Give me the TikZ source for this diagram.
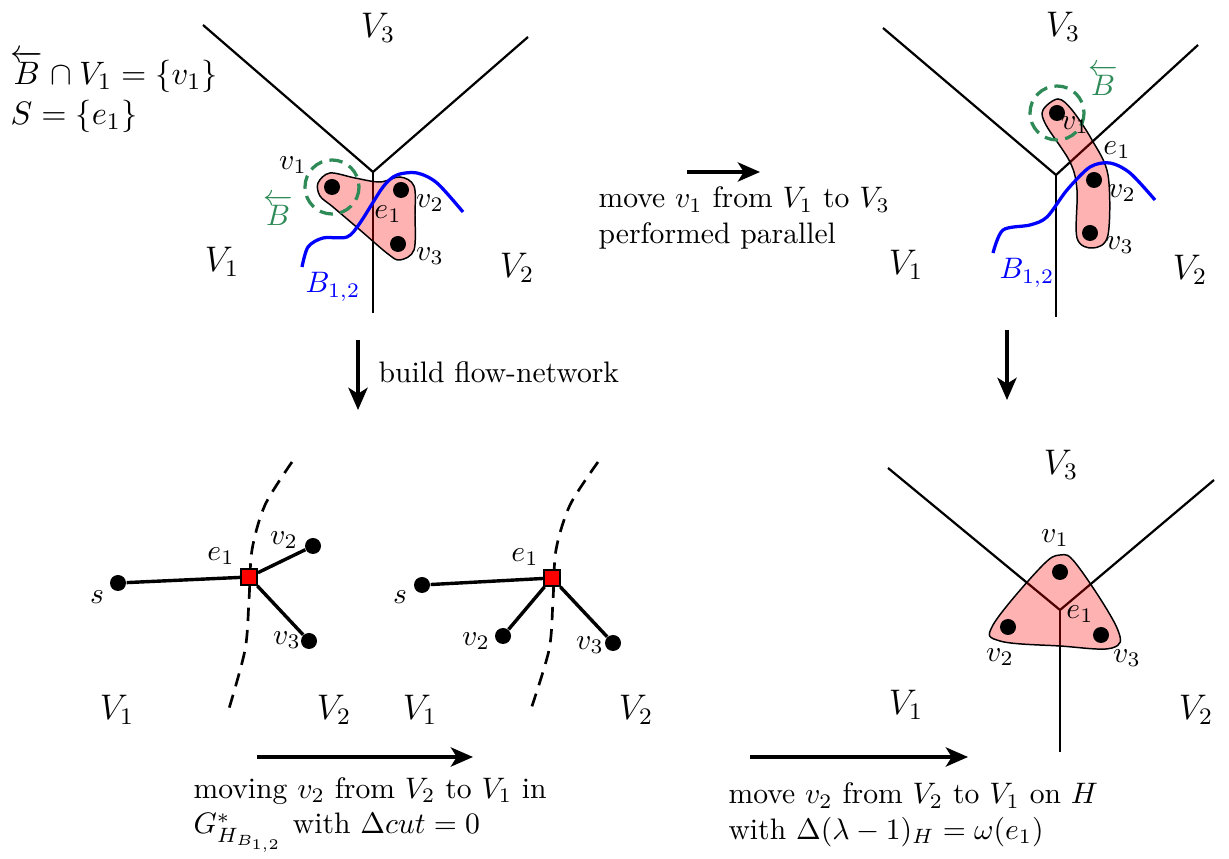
\documentclass[tikz,border=0pt]{standalone}
\usepackage{amsmath,amssymb}
\usetikzlibrary{arrows.meta}
\definecolor{seagreen}{RGB}{46,139,87}

\begin{document}
\begin{tikzpicture}[
  x=0.3375pt, y=-0.3375pt,
  dot/.style={circle, fill=black, inner sep=0pt, minimum size=5.4pt},
  netnode/.style={rectangle, draw=black, fill=red, line width=0.8pt, inner sep=0pt, minimum size=5.2pt},
  border/.style={line width=0.75pt},
  hedge/.style={draw=black, line width=0.5pt, fill=red, fill opacity=0.3},
  cutline/.style={blue, line width=1.1pt},
  bubble/.style={draw=seagreen, dashed, dash pattern=on 4.5pt off 2.5pt, line width=1.1pt},
  move/.style={-{Stealth[length=7.5pt, width=6.5pt, inset=2pt]}, line width=1.1pt},
  flowedge/.style={line width=1.15pt},
  sep/.style={dashed, dash pattern=on 4.5pt off 3pt, line width=0.9pt},
  part/.style={font=\large},
  lab/.style={font=\fontsize{9.7pt}{11pt}\selectfont, inner sep=1pt},
  txt/.style={anchor=west, align=left, inner sep=0pt}
]
\useasboundingbox (0,0) rectangle (1229,859);

\node[txt, font=\fontsize{11.2pt}{13.5pt}\selectfont] (info) at (10,92) {$\overleftarrow{B}\cap V_1=\{v_1\}$\\ $S=\{e_1\}$};

\draw[border] (203,25) -- (373,172) coordinate (a-c) -- (528,37);
\draw[border] (a-c) -- (373,313);
\node[part] (a-V3) at (378,28) {$V_3$};
\node[part] (a-V1) at (222,262) {$V_1$};
\node[part] (a-V2) at (517,268) {$V_2$};
\filldraw[hedge] plot[smooth cycle, tension=0.55] coordinates {(318,183) (330,173) (355,178) (380,182) (400,177) (414,186) (415,215) (414,250) (400,260) (388,254) (360,230) (333,207) (320,196)};
\draw[cutline] plot[smooth] coordinates {(302,267) (308,247) (323,238) (347,237) (360,223) (383,187) (397,175) (417,173) (437,183) (463,212)};
\node[text=blue] (a-B) at (333,287) {$B_{1,2}$};
\node[dot] (a-v1) at (332,187) {};
\node[dot] (a-v2) at (401,190) {};
\node[dot] (a-v3) at (398,244) {};
\draw[bubble] (a-v1) circle (27);
\node[text=seagreen] (a-Bl) at (278,210) {$\overleftarrow{B}$};
\node[lab] (a-l1) at (293,165) {$v_1$};
\node[lab] (a-l2) at (430,203) {$v_2$};
\node[lab] (a-l3) at (430,256) {$v_3$};
\node[lab] (a-le) at (388,214) {$e_1$};

\draw[border] (883,28) -- (1056,175) coordinate (b-c) -- (1198,45);
\draw[border] (b-c) -- (1056,317);
\node[part] (b-V3) at (1063,27) {$V_3$};
\node[part] (b-V1) at (906,265) {$V_1$};
\node[part] (b-V2) at (1190,270) {$V_2$};
\filldraw[hedge] plot[smooth cycle, tension=0.55] coordinates {(1043,110) (1058,99) (1072,110) (1092,140) (1108,175) (1108,235) (1093,248) (1077,238) (1077,190) (1070,162) (1046,125)};
\draw[cutline] plot[smooth] coordinates {(993,253) (1003,230) (1030,225) (1047,217) (1067,190) (1090,167) (1110,163) (1130,173) (1155,200)};
\node[text=blue] (b-B) at (1027,273) {$B_{1,2}$};
\node[dot] (b-v1) at (1057,113) {};
\node[dot] (b-v2) at (1094,180) {};
\node[dot] (b-v3) at (1090,233) {};
\draw[bubble] (b-v1) circle (27);
\node[text=seagreen] (b-Bl) at (1103,80) {$\overleftarrow{B}$};
\node[lab] (b-l1) at (1075,125) {$v_1$};
\node[lab] (b-l2) at (1122,193) {$v_2$};
\node[lab] (b-l3) at (1120,245) {$v_3$};
\node[lab] (b-le) at (1117,150) {$e_1$};

\coordinate (m1a) at (687,172);
\coordinate (m1b) at (760,172);
\draw[move] (m1a) -- (m1b);
\node[txt] (m1t) at (598,218) {move $v_1$ from $V_1$ to $V_3$\\ performed parallel};

\coordinate (m2a) at (358,340);
\coordinate (m2b) at (358,410);
\draw[move] (m2a) -- (m2b);
\node[txt] (m2t) at (378,372) {build flow-network};

\coordinate (m3a) at (1007,330);
\coordinate (m3b) at (1007,400);
\draw[move] (m3a) -- (m3b);

\draw[sep] plot[smooth] coordinates {(292,462) (265,505) (252,550) (249,600) (245,650) (228,712)};
\node[dot] (c-s) at (118,583) {};
\node[netnode] (c-e1) at (249,577) {};
\node[dot] (c-v2) at (313,546) {};
\node[dot] (c-v3) at (309,641) {};
\draw[flowedge] (c-s) -- (c-e1) -- (c-v2);
\draw[flowedge] (c-e1) -- (c-v3);
\node[lab] (c-ls) at (97,597) {$s$};
\node[lab] (c-le) at (221,556) {$e_1$};
\node[lab] (c-l2) at (284,540) {$v_2$};
\node[lab] (c-l3) at (287,640) {$v_3$};
\node[part] (c-V1) at (117,710) {$V_1$};
\node[part] (c-V2) at (334,710) {$V_2$};

\draw[sep] plot[smooth] coordinates {(598,462) (570,505) (556,550) (553,600) (549,650) (530,712)};
\node[dot] (d-s) at (422,585) {};
\node[netnode] (d-e1) at (552,578) {};
\node[dot] (d-v2) at (503,636) {};
\node[dot] (d-v3) at (613,643) {};
\draw[flowedge] (d-s) -- (d-e1) -- (d-v2);
\draw[flowedge] (d-e1) -- (d-v3);
\node[lab] (d-ls) at (400,597) {$s$};
\node[lab] (d-le) at (525,557) {$e_1$};
\node[lab] (d-l2) at (476,641) {$v_2$};
\node[lab] (d-l3) at (590,645) {$v_3$};
\node[part] (d-V1) at (420,710) {$V_1$};
\node[part] (d-V2) at (636,710) {$V_2$};

\coordinate (m4a) at (257,757);
\coordinate (m4b) at (473,757);
\draw[move] (m4a) -- (m4b);
\node[txt] (m4t) at (193,815) {moving $v_2$ from $V_2$ to $V_1$ in\\ $G^*_{H_{B_{1,2}}}$ with $\Delta cut=0$};

\coordinate (m5a) at (750,757);
\coordinate (m5b) at (968,757);
\draw[move] (m5a) -- (m5b);
\node[txt] (m5t) at (728,815) {move $v_2$ from $V_2$ to $V_1$ on $H$\\ with $\Delta(\lambda-1)_H=\omega(e_1)$};

\draw[border] (888,468) -- (1060,610) coordinate (e-c) -- (1214,480);
\draw[border] (e-c) -- (1060,752);
\node[part] (e-V3) at (1061,465) {$V_3$};
\node[part] (e-V1) at (906,705) {$V_1$};
\node[part] (e-V2) at (1196,710) {$V_2$};
\filldraw[hedge] plot[smooth cycle, tension=0.6] coordinates {(1060,555) (1077,565) (1117,628) (1112,648) (1060,646) (1000,641) (993,625) (1040,568)};
\node[dot] (e-v1) at (1060,572) {};
\node[dot] (e-v2) at (1008,627) {};
\node[dot] (e-v3) at (1101,635) {};
\node[lab] (e-l1) at (1055,538) {$v_1$};
\node[lab] (e-l2) at (1000,657) {$v_2$};
\node[lab] (e-l3) at (1127,658) {$v_3$};
\node[lab] (e-le) at (1080,614) {$e_1$};
\end{tikzpicture}
\end{document}
